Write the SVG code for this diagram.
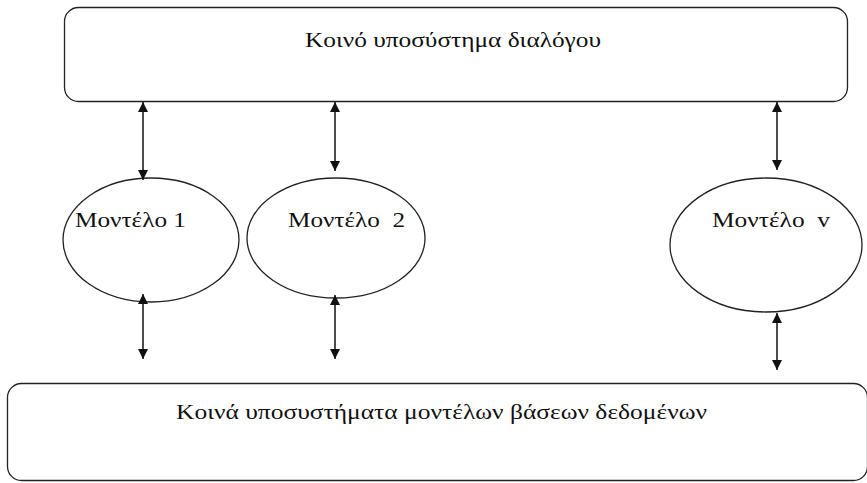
<svg xmlns="http://www.w3.org/2000/svg" width="867" height="483" viewBox="0 0 867 483">
<style>
.box{fill:#fff;stroke:#222;stroke-width:1.3}
.ell{fill:#fff;stroke:#222;stroke-width:1.3}
.t{font-family:"Liberation Serif","DejaVu Serif",serif;font-size:22px;fill:#111}
.c{stroke:#111;stroke-width:1.5;fill:none;marker-start:url(#ah);marker-end:url(#ah)}
</style>
<defs>
<marker id="ah" viewBox="0 0 10 10" refX="10" refY="5" markerWidth="10" markerHeight="10" markerUnits="userSpaceOnUse" orient="auto-start-reverse">
<path d="M0,0 L10,5 L0,10 z" fill="#111"/>
</marker>
</defs>
<rect width="867" height="483" fill="#fff"/>
<g id="top">
<rect class="box" x="64.5" y="7.5" width="783" height="94" rx="14"/>
<text class="t" x="305" y="47" textLength="296" lengthAdjust="spacingAndGlyphs">Κοινό υποσύστημα διαλόγου</text>
</g>
<g id="m1">
<ellipse class="ell" cx="151" cy="240" rx="88" ry="62"/>
<text class="t" x="75" y="227" textLength="111" lengthAdjust="spacingAndGlyphs">Μοντέλο 1</text>
</g>
<g id="m2">
<ellipse class="ell" cx="336" cy="238" rx="89" ry="60"/>
<text class="t" x="288" y="227" textLength="117" lengthAdjust="spacingAndGlyphs" xml:space="preserve">Μοντέλο  2</text>
</g>
<g id="mn">
<ellipse class="ell" cx="766" cy="245" rx="96" ry="67"/>
<text class="t" x="712" y="227" textLength="118" lengthAdjust="spacingAndGlyphs" xml:space="preserve">Μοντέλο  v</text>
</g>
<g id="bottom">
<rect class="box" x="7.5" y="383.5" width="860" height="97" rx="14"/>
<text class="t" x="176" y="419" textLength="531" lengthAdjust="spacingAndGlyphs">Κοινά υποσυστήματα μοντέλων βάσεων δεδομένων</text>
</g>
<g id="connectors">
<line class="c" x1="143" y1="102" x2="143" y2="180"/>
<line class="c" x1="335" y1="102" x2="335" y2="171"/>
<line class="c" x1="777" y1="102" x2="777" y2="170"/>
<line class="c" x1="143" y1="294" x2="143" y2="359"/>
<line class="c" x1="335" y1="295" x2="335" y2="359"/>
<line class="c" x1="777" y1="313" x2="777" y2="370"/>
</g>
</svg>
